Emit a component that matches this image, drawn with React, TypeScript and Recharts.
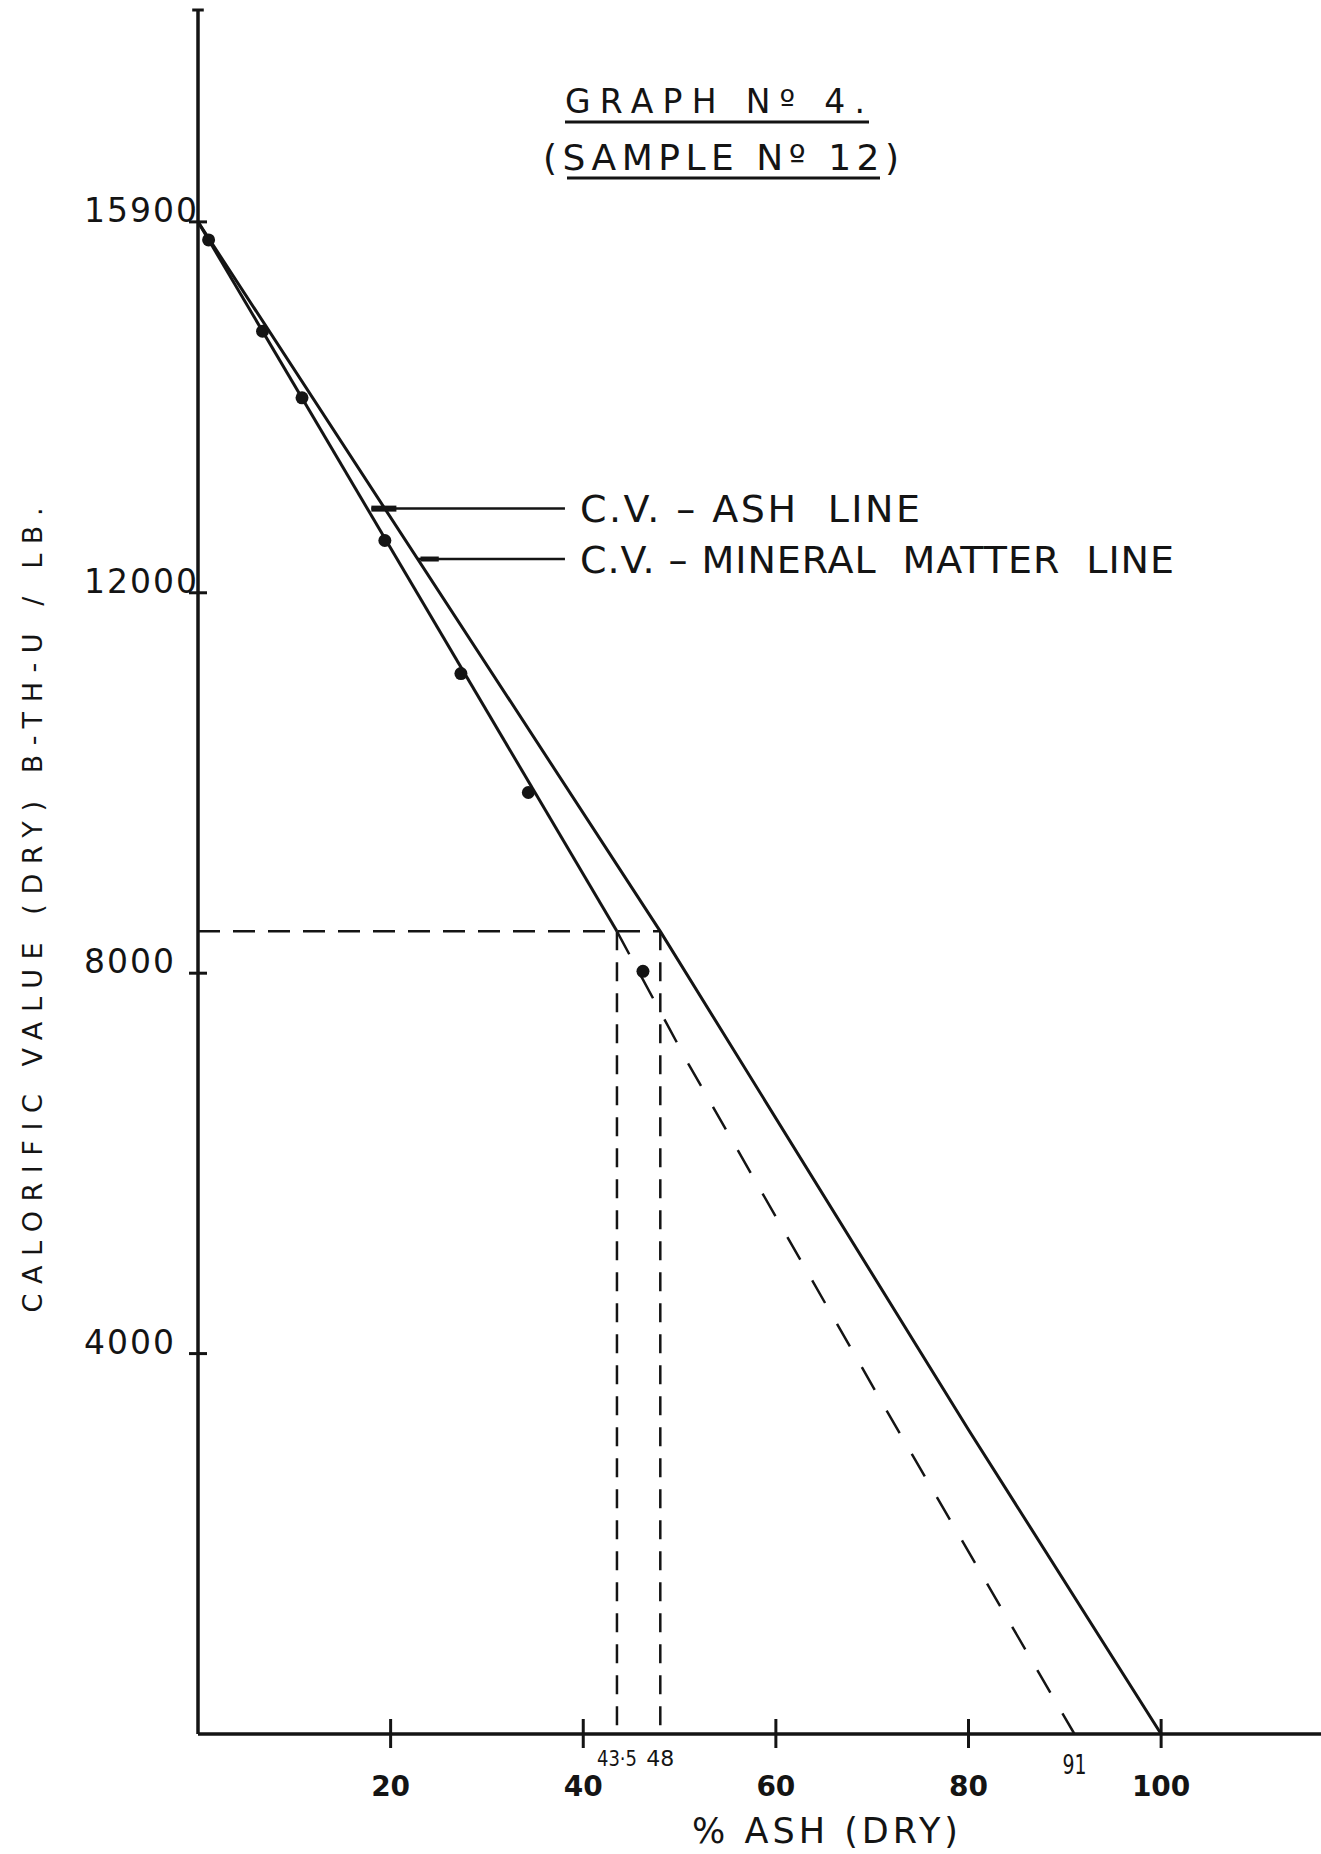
import { ComposedChart, Line, Scatter, XAxis, YAxis, ReferenceLine, ReferenceDot } from "recharts";

const INK = "#141414";
const FONT = "'DejaVu Sans', Verdana, sans-serif";

// samples: % ash (dry) against calorific value (dry), B.Th.U. per lb
const sampleAsh = [1.1, 6.7, 10.8, 19.4, 27.3, 34.3, 46.2];
const sampleCv = [15710, 14750, 14050, 12550, 11150, 9900, 8020];

// C.V. - ash line, drawn through the samples then extrapolated (dashed) to zero
const ashLineAsh = [0, 43.5];
const ashLineCv = [15900, 8440];
const ashExtAsh = [43.5, 50.9, 71.5, 91];
const ashExtCv = [8440, 7050, 3400, 0];

// C.V. - mineral matter line
const mmLineAsh = [0, 48, 80, 100];
const mmLineCv = [15900, 8440, 3200, 0];

// reading taken off the two lines
const readingCv = 8440;
const readingAsh = 43.5;
const readingMm = 48;
const zeroAsh = 91;

// leaders from the line names to the lines
const ashLeaderX = [18, 38.1];
const ashLeaderCv = 12885;
const mmLeaderX = [22.8, 38.1];
const mmLeaderCv = 12355;

const xTicks = [20, 40, 60, 80, 100];
const yTicks = [4000, 8000, 12000, 15900];
const xMax = 116.6;
const yMax = 18128;

const pts = (xs: number[], ys: number[]) => xs.map((x, i) => ({ x, y: ys[i] }));

function XTick(props: any) {
  const { x, y, payload } = props;
  return (
    <g>
      <line x1={x} x2={x} y1={y - 15} y2={y + 14} stroke={INK} strokeWidth={3} />
      <text x={x} y={y + 62} textAnchor="middle" fontFamily={FONT} fontSize={28} fontWeight="bold" fill={INK}>
        {payload.value}
      </text>
    </g>
  );
}

function YTick(props: any) {
  const { x, y, payload } = props;
  return (
    <g>
      <line x1={x - 9} x2={x + 9} y1={y} y2={y} stroke={INK} strokeWidth={3} />
      <text x={x - 114} y={y} fontFamily={FONT} fontSize={33} letterSpacing={2} fill={INK}>
        {payload.value}
      </text>
    </g>
  );
}

const rightOf = (text: string, size: number, length: number) => (p: any) => {
  const vb = p.viewBox;
  return (
    <text
      x={vb.x + vb.width + 15}
      y={vb.y + vb.height / 2 + size * 0.36}
      fontFamily={FONT}
      fontSize={size}
      fill={INK}
      textLength={length}
      lengthAdjust="spacing"
      style={{ whiteSpace: "pre" }}
    >
      {text}
    </text>
  );
};

const below = (text: string, size: number, dy: number, length: number) => (p: any) => {
  const vb = p.viewBox;
  return (
    <text
      x={vb.x + (vb.width || 0) / 2}
      y={vb.y + (vb.height || 0) + dy}
      textAnchor="middle"
      fontFamily={FONT}
      fontSize={size}
      fill={INK}
      textLength={length}
      lengthAdjust="spacingAndGlyphs"
    >
      {text}
    </text>
  );
};

export default function App() {
  return (
    <div style={{ position: "relative", width: 1321, height: 1854, background: "#fff" }}>
      <style>{"body{margin:0}"}</style>
      <ComposedChart width={1321} height={1854} margin={{ top: 10, right: 0, bottom: 0, left: 0 }}>
        <XAxis
          type="number"
          dataKey="x"
          domain={[0, xMax]}
          ticks={xTicks}
          interval={0}
          allowDataOverflow
          height={120}
          axisLine={{ stroke: INK, strokeWidth: 3.5 }}
          tickLine={false}
          tickSize={0}
          tickMargin={0}
          tick={(p: any) => <XTick {...p} />}
        />
        <YAxis
          type="number"
          dataKey="y"
          domain={[0, yMax]}
          ticks={yTicks}
          interval={0}
          allowDataOverflow
          width={198}
          axisLine={{ stroke: INK, strokeWidth: 3.5 }}
          tickLine={false}
          tickSize={0}
          tickMargin={0}
          tick={(p: any) => <YTick {...p} />}
        />

        <ReferenceLine
          segment={[{ x: -0.6, y: yMax }, { x: 0.6, y: yMax }]}
          stroke={INK}
          strokeWidth={3}
          ifOverflow="visible"
        />

        {/* reading guides */}
        <ReferenceLine
          segment={[{ x: 0, y: readingCv }, { x: readingMm, y: readingCv }]}
          stroke={INK}
          strokeWidth={2.5}
          strokeDasharray="22 13"
        />
        <ReferenceLine
          segment={[{ x: readingAsh, y: readingCv }, { x: readingAsh, y: 0 }]}
          stroke={INK}
          strokeWidth={2.5}
          strokeDasharray="19 12"
          label={below("43·5", 21, 32, 40)}
        />
        <ReferenceLine
          segment={[{ x: readingMm, y: readingCv }, { x: readingMm, y: 0 }]}
          stroke={INK}
          strokeWidth={2.5}
          strokeDasharray="19 12"
          label={below("48", 21, 32, 28)}
        />
        <ReferenceDot x={zeroAsh} y={0} r={0} fill="none" stroke="none" label={below("91", 26, 40, 24)} />

        <Line
          data={pts(mmLineAsh, mmLineCv)}
          dataKey="y"
          type="linear"
          stroke={INK}
          strokeWidth={3}
          dot={false}
          activeDot={false}
          isAnimationActive={false}
        />
        <Line
          data={pts(ashLineAsh, ashLineCv)}
          dataKey="y"
          type="linear"
          stroke={INK}
          strokeWidth={3}
          dot={false}
          activeDot={false}
          isAnimationActive={false}
        />
        <Line
          data={pts(ashExtAsh, ashExtCv)}
          dataKey="y"
          type="linear"
          stroke={INK}
          strokeWidth={2.5}
          strokeDasharray="26 24"
          dot={false}
          activeDot={false}
          isAnimationActive={false}
        />
        <Scatter
          data={pts(sampleAsh, sampleCv)}
          fill={INK}
          isAnimationActive={false}
          shape={(p: any) => <circle cx={p.cx} cy={p.cy} r={6.5} fill={INK} />}
        />

        {/* line names */}
        <ReferenceLine
          segment={[{ x: ashLeaderX[0], y: ashLeaderCv }, { x: ashLeaderX[1], y: ashLeaderCv }]}
          stroke={INK}
          strokeWidth={2.5}
          label={rightOf("C.V. – ASH  LINE", 38, 340)}
        />
        <ReferenceLine
          segment={[{ x: ashLeaderX[0], y: ashLeaderCv }, { x: ashLeaderX[0] + 2.6, y: ashLeaderCv }]}
          stroke={INK}
          strokeWidth={6}
        />
        <ReferenceLine
          segment={[{ x: mmLeaderX[0], y: mmLeaderCv }, { x: mmLeaderX[1], y: mmLeaderCv }]}
          stroke={INK}
          strokeWidth={2.5}
          label={rightOf("C.V. – MINERAL  MATTER  LINE", 38, 594)}
        />
        <ReferenceLine
          segment={[{ x: mmLeaderX[0] + 0.3, y: mmLeaderCv }, { x: mmLeaderX[0] + 2.2, y: mmLeaderCv }]}
          stroke={INK}
          strokeWidth={5}
        />
      </ComposedChart>

      <svg
        width={1321}
        height={1854}
        style={{ position: "absolute", left: 0, top: 0, pointerEvents: "none" }}
        fontFamily={FONT}
        fill={INK}
      >
        <text x={565} y={113} fontSize={33} textLength={300} lengthAdjust="spacing">
          GRAPH Nº 4.
        </text>
        <line x1={565} x2={869} y1={122} y2={122} stroke={INK} strokeWidth={3} />
        <text x={543} y={170} fontSize={36} textLength={356} lengthAdjust="spacing">
          (SAMPLE Nº 12)
        </text>
        <line x1={567} x2={880} y1={178} y2={178} stroke={INK} strokeWidth={3} />
        <text
          transform="translate(32,910) rotate(-90)"
          textAnchor="middle"
          dominantBaseline="central"
          fontSize={27}
          textLength={805}
          lengthAdjust="spacing"
        >
          CALORIFIC VALUE (DRY) B-TH-U / LB.
        </text>
        <text x={825} y={1843} textAnchor="middle" fontSize={35} textLength={266} lengthAdjust="spacing">
          % ASH (DRY)
        </text>
      </svg>
    </div>
  );
}
